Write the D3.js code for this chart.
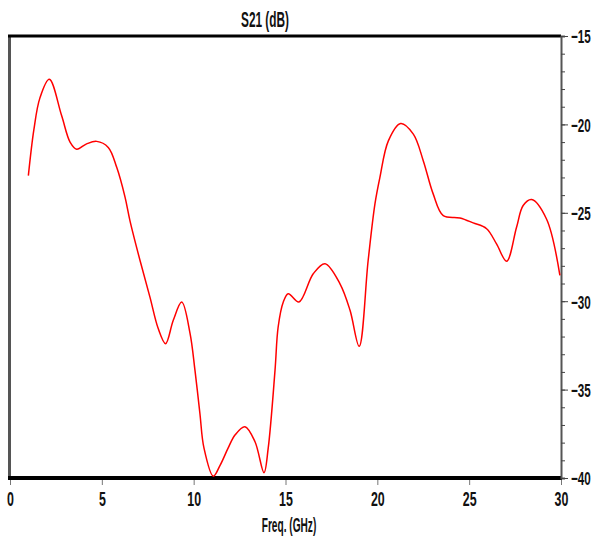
<!DOCTYPE html>
<html>
<head>
<meta charset="utf-8">
<script src="https://cdn.jsdelivr.net/npm/d3@7"></script>
<style>
  body { margin: 0; background: #fff; }
  text { font-family: "Liberation Sans Narrow", "Liberation Sans", Arial, sans-serif; font-weight: bold; fill: #111; }
</style>
</head>
<body>
<svg id="chart" width="593" height="537"></svg>
<script>
// values
const freq = [1.0, 1.3, 1.63, 2.14, 2.81, 3.27, 3.63, 4.17, 4.72, 5.35, 5.81, 6.26, 6.53,
  7.08, 7.62, 8.07, 8.47, 8.89, 9.35, 9.8, 10.07, 10.34, 10.56, 11.07, 11.43, 11.88, 12.25, 12.79,
  13.34, 13.83, 14.06, 14.43, 14.6, 14.88, 15.15, 15.73, 16.51, 17.15, 17.96, 18.51, 19.01, 19.5,
  19.87, 20.14, 20.6, 21.27, 21.96, 22.5, 23.04, 23.59, 24.5, 25.22, 25.95, 26.49, 27.04, 27.58,
  27.94, 28.4, 29.21, 29.94];
const s21 = [-22.9, -20.3, -18.5, -17.45, -19.5, -21.0, -21.4, -21.1, -20.96, -21.3, -22.43, -24.1, -25.44,
  -27.7, -29.77, -31.55, -32.4, -31.08, -30.05, -31.8, -33.9, -36.35, -38.3, -39.9, -39.3, -38.3, -37.57, -37.1,
  -37.95, -39.7, -38.3, -33.9, -31.46, -30.05, -29.58, -30.05, -28.45, -27.88, -29.0, -30.5, -32.55, -27.7,
  -24.5, -23.0, -20.93, -19.95, -20.55, -22.05, -23.93, -25.16, -25.29, -25.57, -25.9, -26.76, -27.74, -25.82,
  -24.59, -24.25, -25.35, -28.54];
const xTicks = [0, 5, 10, 15, 20, 25, 30];
const yTicks = [-15, -20, -25, -30, -35, -40];
const yMinor = d3.range(-40, -14, 1);
const titleText = "S21 (dB)";
const xLabelText = "Freq. (GHz)";

const canvas = d3.select("#chart");
const margin = { top: 36, right: 32, bottom: 59, left: 10 };
const width = 593 - margin.left - margin.right,
  height = 537 - margin.top - margin.bottom;

const xScale = d3.scaleLinear().domain([0, 30]).range([0, width]);
const yScale = d3.scaleLinear().domain([-40, -15]).range([height, 0]);

// narrow bold lettering: squeeze each label horizontally to the width seen in the picture
function squeeze(sel, perChar) {
  sel.each(function () {
    const t = d3.select(this);
    let w = 0;
    for (const c of t.text()) w += c === "-" ? perChar * 0.6 : c === " " ? perChar * 0.5 : perChar;
    const natural = this.getComputedTextLength();
    const x = +t.attr("x") || 0;
    const sx = w / natural;
    t.attr("transform", `translate(${x},0) scale(${sx},1) translate(${-x},0)`);
  });
}

const g = canvas.append("g").attr("transform", `translate(${margin.left},${margin.top})`);

// left frame edge (grey) and top edge (black)
g.append("line").attr("x1", -0.5).attr("x2", -0.5).attr("y1", -1).attr("y2", height)
  .attr("stroke", "#555").attr("stroke-width", 3);
g.append("line").attr("x1", -2).attr("x2", width).attr("y1", 0).attr("y2", 0)
  .attr("stroke", "#000").attr("stroke-width", 3);

// bottom axis
const gx = g.append("g").attr("transform", `translate(0,${height})`)
  .call(d3.axisBottom(xScale).tickValues(xTicks).tickSize(7).tickPadding(5).tickSizeOuter(0));
gx.select(".domain").remove();
gx.selectAll(".tick line").attr("stroke", "#777").attr("stroke-width", 1);
gx.selectAll(".tick text").attr("font-size", 21).attr("fill", "#111")
  .attr("font-family", null).attr("dy", "0.75em")
  .call(squeeze, 6.9);
g.append("line").attr("x1", -2).attr("x2", width + 1).attr("y1", height).attr("y2", height)
  .attr("stroke", "#000").attr("stroke-width", 4);

// right axis with 1 dB minor ticks
const gyMinor = g.append("g").attr("transform", `translate(${width},0)`)
  .call(d3.axisRight(yScale).tickValues(yMinor).tickSize(4).tickFormat(""));
gyMinor.select(".domain").attr("stroke", "#555").attr("stroke-width", 2);
gyMinor.selectAll(".tick line").attr("stroke", "#444");

const gy = g.append("g").attr("transform", `translate(${width},0)`)
  .call(d3.axisRight(yScale).tickValues(yTicks).tickSize(7).tickPadding(3).tickFormat(d3.format("d")));
gy.select(".domain").remove();
gy.selectAll(".tick line").attr("stroke", "#444");
gy.selectAll(".tick text").attr("font-size", 19).attr("fill", "#111")
  .attr("font-family", null).attr("dy", "0.36em")
  .call(squeeze, 6.6);

// curve
const line = d3.line()
  .x((d, i) => xScale(freq[i]))
  .y((d) => yScale(d))
  .curve(d3.curveCatmullRom.alpha(0.5));

g.append("path")
  .datum(s21)
  .attr("fill", "none")
  .attr("stroke", "#ff0000")
  .attr("stroke-width", 1.5)
  .attr("d", line);

// titles
canvas.append("text").attr("x", 265).attr("y", 27).attr("text-anchor", "middle")
  .attr("font-size", 22).text(titleText)
  .call(squeeze, 6.4);
canvas.append("text").attr("x", 289).attr("y", 532).attr("text-anchor", "middle")
  .attr("font-size", 21).text(xLabelText)
  .call(squeeze, 5.2);
</script>
</body>
</html>
